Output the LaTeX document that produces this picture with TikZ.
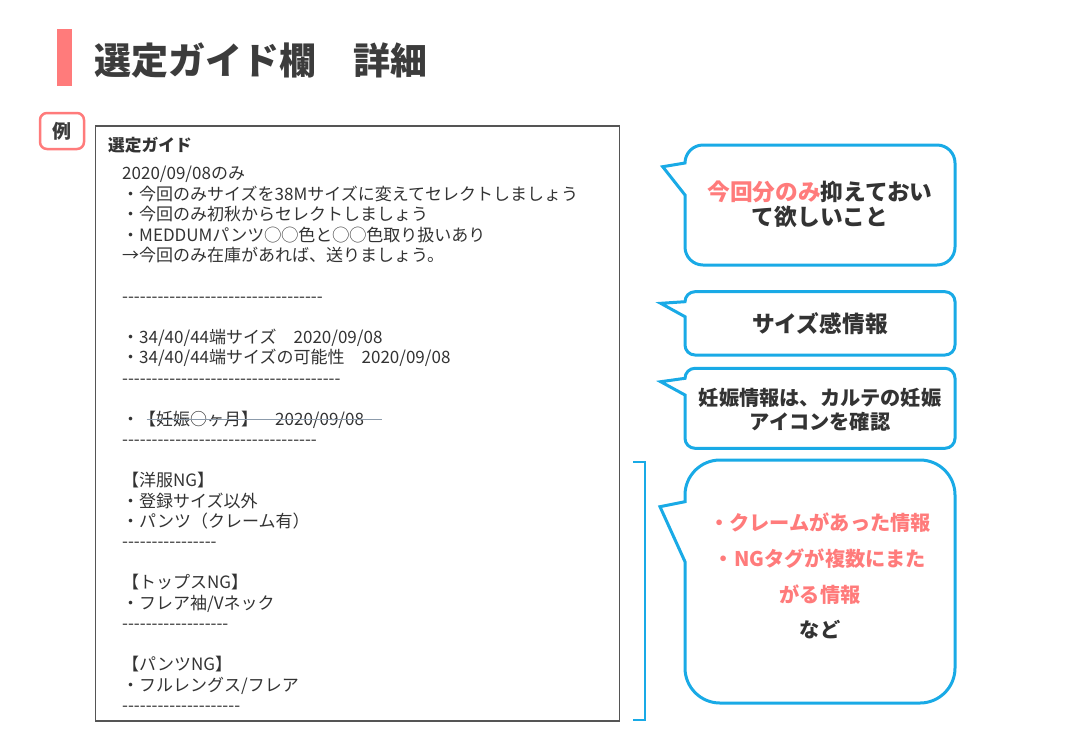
\documentclass[tikz,border=0pt]{standalone}
\usepackage{fontspec}
\setmainfont{Noto Sans CJK JP}
\usetikzlibrary{calc}
\definecolor{pinkc}{HTML}{FF7B7B}
\definecolor{cyanc}{HTML}{19AAE6}
\definecolor{txt}{HTML}{333333}
\definecolor{ttl}{HTML}{3C3C3C}
\definecolor{boxc}{HTML}{555555}
\definecolor{strikec}{HTML}{8C9BAB}
\newcommand{\dashrun}[1]{\foreach \k in {1,...,#1}{-\kern0pt}}
\newcommand{\speech}[9]{%
  \draw[bubline] (#8,#9) -- (#1,#6) -- (#1,{#2+#5})
    arc[start angle=180,end angle=90,radius=#5pt] -- ({#3-#5},#2)
    arc[start angle=90,end angle=0,radius=#5pt] -- (#3,{#4-#5})
    arc[start angle=0,end angle=-90,radius=#5pt] -- ({#1+#5},#4)
    arc[start angle=270,end angle=180,radius=#5pt] -- (#1,#7) -- cycle;}
\begin{document}
\begin{tikzpicture}[x=1pt,y=-1pt,
  body/.style={anchor=base west, inner sep=0pt, text=txt, font=\fontsize{17pt}{20pt}\selectfont},
  bubA/.style={anchor=base, inner sep=0pt, text=txt, font=\bfseries\fontsize{22.7pt}{26pt}\selectfont},
  bubB/.style={anchor=base, inner sep=0pt, text=txt, font=\bfseries\fontsize{20.2pt}{24pt}\selectfont},
  bubline/.style={draw=cyanc, line width=3pt, fill=white},
  strike/.style={draw=strikec, line width=1.6pt}]
\useasboundingbox[fill=white] (0,0) rectangle (1086,732);

% title
\node[fill=pinkc, minimum width=15pt, minimum height=56.4pt, inner sep=0pt] (bar) at (64.8,57.5) {};
\node[anchor=base west, inner sep=0pt, text=ttl, font=\bfseries\fontsize{37pt}{40pt}\selectfont] (title) at (94,74) {選定ガイド欄　詳細};

% example tag
\node[draw=pinkc, line width=2.5pt, rounded corners=7pt, minimum width=44pt, minimum height=36pt, inner sep=0pt, text=ttl, font=\bfseries\fontsize{19pt}{22pt}\selectfont] (rei) at (62,131) {例};

% guide box
\node[draw=boxc, line width=1.5pt, minimum width=524pt, minimum height=595pt, inner sep=0pt, anchor=north west] (guide) at (94.5,125) {};
\node[anchor=base west, inner sep=0pt, text=txt, font=\bfseries\fontsize{16.7pt}{20pt}\selectfont] (glabel) at (108,151.3) {選定ガイド};

\node[body] (l0) at (122,179.8) {2020/09/08のみ};
\node[body] (l1) at (122,200.25) {・今回のみサイズを38Mサイズに変えてセレクトしましょう};
\node[body] (l2) at (122,220.7) {・今回のみ初秋からセレクトしましょう};
\node[body] (l3) at (122,241.15) {・MEDDUMパンツ◯◯色と◯◯色取り扱いあり};
\node[body] (l4) at (122,261.6) {→今回のみ在庫があれば、送りましょう。};
\node[body] (l6) at (122,302.5) {\dashrun{34}};
\node[body] (l8) at (122,343.4) {・34/40/44端サイズ　2020/09/08};
\node[body] (l9) at (122,363.85) {・34/40/44端サイズの可能性　2020/09/08};
\node[body] (l10) at (122,384.3) {\dashrun{37}};
\node[body] (l12) at (122,425.2) {・【妊娠○ヶ月】　2020/09/08};
\draw[strike] (146.7,419.5) -- (381.7,419.5);
\node[body] (l13) at (122,445.65) {\dashrun{33}};
\node[body] (l15) at (122,486.55) {【洋服NG】};
\node[body] (l16) at (122,507.0) {・登録サイズ以外};
\node[body] (l17) at (122,527.45) {・パンツ（クレーム有）};
\node[body] (l18) at (122,547.9) {\dashrun{16}};
\node[body] (l20) at (122,588.8) {【トップスNG】};
\node[body] (l21) at (122,609.25) {・フレア袖/Vネック};
\node[body] (l22) at (122,629.7) {\dashrun{18}};
\node[body] (l24) at (122,670.6) {【パンツNG】};
\node[body] (l25) at (122,691.05) {・フルレングス/フレア};
\node[body] (l26) at (122,711.5) {\dashrun{20}};

% bracket
\draw[cyanc, line width=2pt] (633,462) -| (645,720) -- (633,720);

% bubbles
\speech{685}{145}{955}{265}{18}{163}{195}{662.7}{166.7}
\node[bubA] (t1a) at (820,200.3) {\textcolor{pinkc}{今回分のみ}抑えておい};
\node[bubA] (t1b) at (820,225.6) {て欲しいこと};

\speech{685}{291.7}{955}{355}{10}{301.7}{316.7}{660.7}{303.3}
\node[bubA] (t2) at (820,332) {サイズ感情報};

\speech{685}{368.3}{955}{448.3}{10}{378.3}{395}{660.7}{381.7}
\node[bubB] (t3a) at (820,405.9) {妊娠情報は、カルテの妊娠};
\node[bubB] (t3b) at (820,429.3) {アイコンを確認};

\speech{685}{460}{955}{703}{35}{501.7}{561.7}{660}{506.7}
\node[bubB, text=pinkc] (t4a) at (820,530.8) {・クレームがあった情報};
\node[bubB, text=pinkc] (t4b) at (820,566.8) {・NGタグが複数にまた};
\node[bubB, text=pinkc] (t4c) at (820,602.8) {がる情報};
\node[bubB] (t4d) at (820,637.8) {など};
\end{tikzpicture}
\end{document}
